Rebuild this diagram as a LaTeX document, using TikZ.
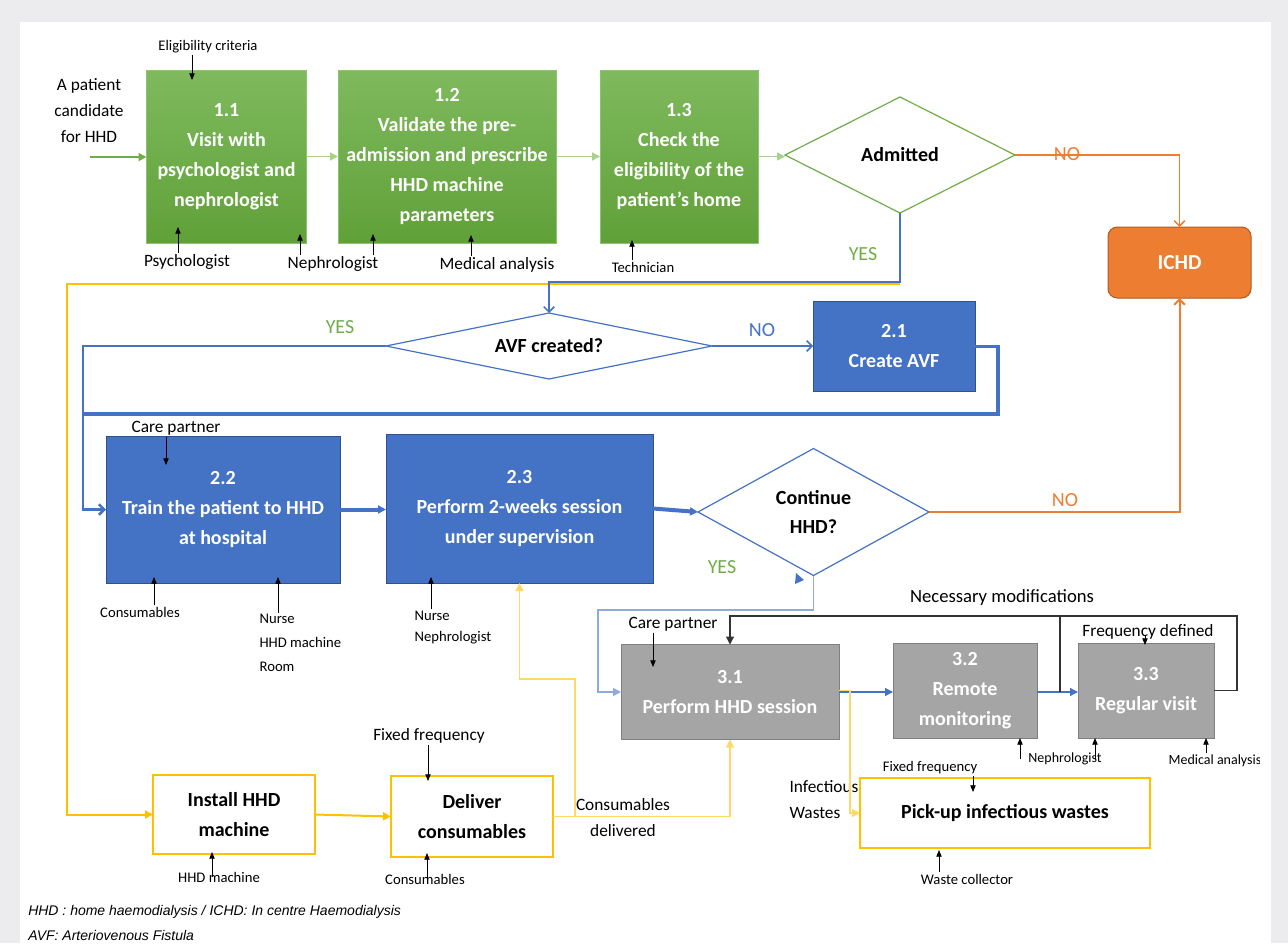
\documentclass[tikz,border=0pt]{standalone}
\usepackage{fontspec}
\setmainfont{Carlito}
\newfontfamily\notefont{Liberation Sans}
\usetikzlibrary{arrows.meta,shapes.geometric}

\definecolor{bggray}{RGB}{236,236,238}
\definecolor{grnA}{RGB}{127,186,94}
\definecolor{grnB}{RGB}{96,160,56}
\definecolor{grnedge}{RGB}{140,195,110}
\definecolor{grnline}{RGB}{112,173,71}
\definecolor{grnlight}{RGB}{169,209,142}
\definecolor{bluebox}{RGB}{68,114,196}
\definecolor{blueedge}{RGB}{47,82,143}
\definecolor{bluelight}{RGB}{143,170,220}
\definecolor{orng}{RGB}{237,125,49}
\definecolor{orngedge}{RGB}{174,90,33}
\definecolor{greybox}{RGB}{165,165,165}
\definecolor{greyedge}{RGB}{127,127,127}
\definecolor{ylw}{RGB}{255,192,0}
\definecolor{ylwlight}{RGB}{255,217,102}

\tikzset{
  sz/.style 2 args={minimum width=#1*0.75pt, minimum height=#2*0.75pt},
  proc/.style={rectangle, inner sep=0pt, outer sep=0pt, align=center, line width=0.75pt,
    font=\fontsize{15}{22.5}\selectfont\bfseries},
  grnbox/.style={proc, top color=grnA, bottom color=grnB, draw=grnedge, text=white},
  bluproc/.style={proc, fill=bluebox, draw=blueedge, text=white},
  greyproc/.style={proc, fill=greybox, draw=greyedge, text=white},
  ylwbox/.style={proc, fill=white, draw=ylw, line width=1.5pt, text=black},
  ichdbox/.style={proc, rounded corners=7pt, fill=orng, draw=orngedge, text=white,
    font=\fontsize{16}{19}\selectfont\bfseries},
  decide/.style={diamond, inner sep=0pt, outer sep=0pt, fill=white, line width=0.9pt,
    align=center, font=\fontsize{15}{22}\selectfont\bfseries},
  lbl/.style={inner sep=1pt, align=center, font=\fontsize{13}{20}\selectfont},
  lblsm/.style={inner sep=1pt, align=left, font=\fontsize{11}{18}\selectfont},
  lblxs/.style={inner sep=1pt, font=\fontsize{10.5}{13}\selectfont},
  yesno/.style={inner sep=1pt, font=\fontsize{15}{18}\selectfont},
  lblarr/.style={line width=0.6pt, -{Triangle[length=5pt,width=4pt]}},
  barb/.style={-{Straight Barb[length=4pt,width=8pt]}},
  tri/.style={-{Triangle[length=6pt,width=6pt]}},
}

\begin{document}
\begin{tikzpicture}[x=0.75pt,y=0.75pt,yscale=-1,xscale=1]
\useasboundingbox (0,0) rectangle (1288,943);
\fill[bggray] (0,0) rectangle (1288,943);
\fill[white] (20,22) rectangle (1271,943);

% Process boxes
\node[grnbox, sz={160}{173}] (b11) at (226.5,156.5) {1.1\\Visit with\\psychologist and\\nephrologist};
\node[grnbox, sz={218}{173}] (b12) at (447,156.5) {1.2\\Validate the pre-\\admission and prescribe\\HHD machine\\parameters};
\node[grnbox, sz={158}{173}] (b13) at (679,156.5) {1.3\\Check the\\eligibility of the\\patient’s home};
\node[ichdbox, sz={143}{71}] (ichd) at (1179.5,262.5) {ICHD};
\node[bluproc, sz={162}{90}] (b21) at (894,346.5) {2.1\\Create AVF};
\node[bluproc, sz={234}{147}] (b22) at (223,509.5) {2.2\\Train the patient to HHD\\at hospital};
\node[bluproc, sz={267}{149}] (b23) at (519.5,508.5) {2.3\\Perform 2-weeks session\\under supervision};
\node[greyproc, sz={218}{95}] (b31) at (730,692) {3.1\\Perform HHD session};
\node[greyproc, sz={144}{95}] (b32) at (965,690.5) {3.2\\Remote\\monitoring};
\node[greyproc, sz={136}{95}] (b33) at (1146,690.5) {3.3\\Regular visit};
\node[ylwbox, sz={162}{79}] (inst) at (234,814.5) {Install HHD\\machine};
\node[ylwbox, sz={162}{81}] (dlv) at (472,816.5) {Deliver\\consumables};
\node[ylwbox, sz={290}{70}] (pick) at (1005,813) {Pick-up infectious wastes};

% Decisions
\node[decide, draw=grnline, sz={230}{116}, shape aspect=1.98] (adm) at (900,155) {Admitted};
\node[decide, draw=bluebox, sz={326}{66}, shape aspect=4.94] (avf) at (549,346) {AVF created?};
\node[decide, draw=bluebox, sz={231}{127}, shape aspect=1.82] (cont) at (813.5,512) {Continue\\HHD?};

% Text Node
\node[lbl, font=\fontsize{13}{19.5}\selectfont] (pat) at (89,111) {A patient\\candidate\\for HHD};
\node[lblsm] (elig) at (208,47) {Eligibility criteria};
\node[lbl] (psy) at (187,262) {Psychologist};
\node[lbl] (neph1) at (333,264) {Nephrologist};
\node[lbl] (medan1) at (497,265) {Medical analysis};
\node[lblsm] (tech) at (643,267) {Technician};
\node[lbl] (care1) at (176,428) {Care partner};
\node[lblsm] (cons1) at (140,612) {Consumables};
\node[lblsm, anchor=west] (nhr) at (258,643) {Nurse\\HHD machine\\Room};
\node[lblsm, anchor=west, font=\fontsize{11}{16}\selectfont] (nn) at (413,627.5) {Nurse\\Nephrologist};
\node[lbl] (care2) at (673,624) {Care partner};
\node[inner sep=1pt, font=\fontsize{14}{17}\selectfont] (nmod) at (1002,598) {Necessary modifications};
\node[lbl] (freq) at (1148,632) {Frequency defined};
\node[lblxs] (neph3) at (1065,759) {Nephrologist};
\begin{scope}
\clip (0,0) rectangle (1259,943);
\node[lblxs] (medan3) at (1215,761) {Medical analysis};
\end{scope}
\node[lbl] (ffq1) at (429,736) {Fixed frequency};
\node[lblsm] (hhdm) at (219,877) {HHD machine};
\node[lblsm] (cons2) at (425,879) {Consumables};
\node[lbl] (cdel) at (623,817.5) {Consumables\\delivered};
\node[lbl, anchor=west, align=left] (infw) at (788,799.5) {Infectious\\Wastes};
\node[lblsm] (ffq2) at (930,768) {Fixed frequency};
\node[lblsm] (wcol) at (967,879) {Waste collector};
\node[yesno, text=orng] (no1) at (1067,154) {NO};
\node[yesno, text=grnline] (yes1) at (863,254) {YES};
\node[yesno, text=grnline] (yes2) at (340,327) {YES};
\node[yesno, text=bluebox] (no2) at (762,330) {NO};
\node[yesno, text=orng] (no3) at (1065,500) {NO};
\node[yesno, text=grnline] (yes3) at (722,567) {YES};
\node[anchor=west, inner sep=0pt, font=\notefont\itshape\fontsize{10.5}{13}\selectfont] (fn1) at (28,912) {HHD : home haemodialysis / ICHD: In centre Haemodialysis};
\node[anchor=west, inner sep=0pt, font=\notefont\itshape\fontsize{10.5}{13}\selectfont] (fn2) at (28,935) {AVF: Arteriovenous Fistula};

% Turning points
\coordinate (pin) at (90,157);
\coordinate (yt) at (900,283);
\coordinate (ycorner) at (67,283);
\coordinate (bl) at (83,346);
\coordinate (lr) at (998,414);
\coordinate (lb) at (598,610);
\coordinate (nm) at (1237,616);
\coordinate (nmj) at (1060,616);
\coordinate (br) at (575,679);
\coordinate (iw) at (850,693);

%Straight Lines: phase 1
\draw[grnline, line width=1.5pt, tri] (pin) -- (pin -| b11.west);
\draw[grnlight, line width=1.1pt, tri] (b11.east) -- (b12.west);
\draw[grnlight, line width=1.1pt, tri] (b12.east) -- (b13.west);
\draw[grnlight, line width=1.1pt, tri] (b13.east) -- (b13.east -| adm.west);
\draw[orng, line width=1.1pt, barb] (adm.east) -| (ichd.north);
\draw[ylw, line width=1.5pt, tri] ([yshift=0.9pt]yt) -- ([yshift=0.9pt]ycorner) |- (inst.west);
\draw[bluebox, line width=1.1pt, barb] (adm.south) -- ([yshift=-0.6pt]yt) -| (avf.north);

%Straight Lines: phase 2
\draw[bluebox, line width=1.9pt, barb] (avf.west) -- (bl) |- (b22.west);
\draw[bluebox, line width=1.1pt, barb] (avf.east) -- (avf.east -| b21.west);
\draw[bluebox, line width=2.3pt] (b21.east) -| (lr) -- (lr -| bl);
\draw[bluebox, line width=3pt, tri] (b22.east) -- (b22.east -| b23.west);
\draw[bluebox, line width=3pt, tri] (b23.east) -- (cont.west);
\draw[orng, line width=1.5pt, barb] (cont.east) -| (ichd.south);
\draw[bluelight, line width=1.1pt, tri] (cont.south) |- (lb) |- (b31.west);
\fill[bluebox] (796,573) -- (804,580) -- (795,584) -- cycle;

%Straight Lines: phase 3
\draw[bluebox, line width=0.9pt, tri] (b31.east) -- (b31.east -| b32.west);
\draw[bluebox, line width=0.9pt, tri] (b32.east |- b31.east) -- (b31.east -| b33.west);
\draw[black!80, line width=0.8pt, tri] (b33.east) -| (nm) -| (b31.north);
\draw[black!80, line width=0.8pt] (nmj) -- (nmj |- b31.east);

%Straight Lines: logistics
\draw[ylw, line width=1.5pt, tri] (inst.east) -- (dlv.west);
\draw[ylwlight, line width=0.9pt, tri] (dlv.east) -| (b31.south);
\draw[ylwlight, line width=0.9pt, tri] (dlv.east -| br) -- (br) -| (b23.south);
\draw[ylwlight, line width=0.9pt, tri] ([yshift=-1pt]b31.east) -- ([yshift=-1pt]b31.east -| iw) |- (pick.west);

% Resource arrows
\coordinate (t1) at (192,80);
\coordinate (t2) at (178,227);
\coordinate (t3) at (300,234);
\coordinate (t4) at (373,234);
\coordinate (t5) at (471,235);
\coordinate (t6) at (632,240);
\coordinate (t7) at (166,465);
\coordinate (t8) at (154,577);
\coordinate (t9) at (278,577);
\coordinate (t10) at (431,577);
\coordinate (t11) at (653,667);
\coordinate (t12) at (1145,645);
\coordinate (t13) at (1020,738);
\coordinate (t14) at (1095,738);
\coordinate (t15) at (1206,738);
\coordinate (t16) at (428,781);
\coordinate (t17) at (212,852);
\coordinate (t18) at (427,853);
\coordinate (t19) at (973,792);
\coordinate (t20) at (939,850);
\draw[lblarr] (elig.south -| t1) -- (t1);
\draw[lblarr] (psy.north -| t2) -- (t2);
\draw[lblarr] (neph1.north -| t3) -- (t3);
\draw[lblarr] (neph1.north -| t4) -- (t4);
\draw[lblarr] (medan1.north -| t5) -- (t5);
\draw[lblarr] (tech.north -| t6) -- (t6);
\draw[lblarr] (care1.south -| t7) -- (t7);
\draw[lblarr] (cons1.north -| t8) -- (t8);
\draw[lblarr] (nhr.north -| t9) -- (t9);
\draw[lblarr] (nn.north -| t10) -- (t10);
\draw[lblarr] (care2.south -| t11) -- (t11);
\draw[lblarr] ([yshift=-7pt]t12) -- (t12);
\draw[lblarr] (neph3.center -| t13) -- (t13);
\draw[lblarr] (neph3.center -| t14) -- (t14);
\draw[lblarr] (medan3.north -| t15) -- (t15);
\draw[lblarr] (ffq1.south -| t16) -- (t16);
\draw[lblarr] (hhdm.center -| t17) -- (t17);
\draw[lblarr] (cons2.center -| t18) -- (t18);
\draw[lblarr] (ffq2.south -| t19) -- (t19);
\draw[lblarr] (wcol.north -| t20) -- (t20);

\end{tikzpicture}
\end{document}
